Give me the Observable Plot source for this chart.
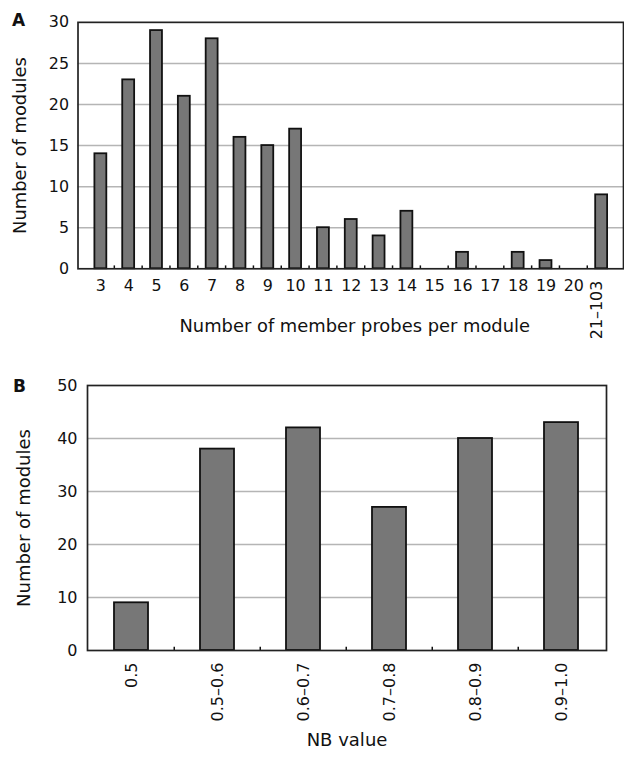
<!DOCTYPE html>
<html><head><meta charset="utf-8">
<script src="https://cdn.jsdelivr.net/npm/d3@7"></script>
<script src="https://cdn.jsdelivr.net/npm/@observablehq/plot@0.6"></script>
<style>
body{margin:0;background:#fff;}
#wrap{position:relative;width:624px;height:762px;overflow:hidden;font-family:"DejaVu Sans",sans-serif;color:#111;}
.panel{position:absolute;left:0;}
.tag{position:absolute;font-weight:bold;font-size:17px;line-height:17px;font-family:"DejaVu Sans",sans-serif;color:#111;}
</style></head><body>
<div id="wrap">
<div id="pa" class="panel" style="top:0"></div>
<div id="pb" class="panel" style="top:370px"></div>
<div class="tag" style="left:12px;top:12px">A</div>
<div class="tag" style="left:13px;top:378px">B</div>
</div>
<script>
// Panel A data
const probeCategories = ["3","4","5","6","7","8","9","10","11","12","13","14","15","16","17","18","19","20","21–103"];
const probeCounts = [14,23,29,21,28,16,15,17,5,6,4,7,0,2,0,2,1,0,9];
const probeTicks = [0,5,10,15,20,25,30];
// Panel B data
const nbCategories = ["0.5","0.5–0.6","0.6–0.7","0.7–0.8","0.8–0.9","0.9–1.0"];
const nbCounts = [9,38,42,27,40,43];
const nbTicks = [0,10,20,30,40,50];

const lastProbe = probeCategories[probeCategories.length - 1];
const dataA = probeCategories.map((c, i) => ({cat: c, count: probeCounts[i]}));
const dataB = nbCategories.map((c, i) => ({cat: c, count: nbCounts[i]}));

const font = "DejaVu Sans, sans-serif";
const ink = "#111";
const gridColor = "#b5b5b5";
const barFill = "#777777";

// Panel A
const wA = 628, mLA = 78, mRA = 1;
const stepA = (wA - mLA - mRA) / probeCategories.length;
const chartA = Plot.plot({
  width: wA, height: 350,
  marginLeft: mLA, marginRight: mRA, marginTop: 22, marginBottom: 80,
  style: {fontFamily: font, fontSize: "16px", color: ink, background: "transparent"},
  x: {domain: probeCategories, paddingInner: 0.58, paddingOuter: 0.29, label: null, tickSize: 0, tickPadding: 11,
      tickFormat: d => d === lastProbe ? "" : d},
  y: {domain: [0, 30], ticks: probeTicks, label: null, tickSize: 0, tickPadding: 9},
  marks: [
    Plot.ruleY(probeTicks.slice(1, -1), {stroke: gridColor, strokeWidth: 1.5}),
    Plot.barY(dataA.filter(d => d.count > 0), {x: "cat", y: "count", fill: barFill, stroke: "#111", strokeWidth: 1.8}),
    Plot.ruleX(probeCategories.slice(1), {x: d => d, y1: 0, y2: 0.35, dx: -stepA / 2, stroke: "#111", strokeWidth: 1.5}),
    Plot.frame({stroke: "#222", strokeWidth: 1.7}),
    Plot.text([lastProbe], {x: d => d, frameAnchor: "bottom", dy: 12, rotate: -90, textAnchor: "end", fontSize: 16, fill: ink}),
    Plot.text(["Number of member probes per module"], {frameAnchor: "bottom", textAnchor: "middle", dy: 64, dx: 4, fontSize: 18, fill: ink}),
    Plot.text(["Number of modules"], {frameAnchor: "left", textAnchor: "middle", dx: -58, rotate: -90, fontSize: 18, fill: ink})
  ]
});
document.getElementById("pa").appendChild(chartA);

// Panel B
const wB = 624, mLB = 87, mRB = 18;
const stepB = (wB - mLB - mRB) / nbCategories.length;
const chartB = Plot.plot({
  width: wB, height: 392,
  marginLeft: mLB, marginRight: mRB, marginTop: 15, marginBottom: 112,
  style: {fontFamily: font, fontSize: "16px", color: ink, background: "transparent"},
  x: {domain: nbCategories, paddingInner: 0.6, paddingOuter: 0.3, label: null, tickSize: 0, tickPadding: 12, tickRotate: -90},
  y: {domain: [0, 50], ticks: nbTicks, label: null, tickSize: 0, tickPadding: 10},
  marks: [
    Plot.ruleY(nbTicks.slice(1, -1), {stroke: gridColor, strokeWidth: 1.5}),
    Plot.barY(dataB, {x: "cat", y: "count", fill: barFill, stroke: "#111", strokeWidth: 1.8}),
    Plot.ruleX(nbCategories.slice(1), {x: d => d, y1: 0, y2: 0.6, dx: -stepB / 2, stroke: "#111", strokeWidth: 1.5}),
    Plot.frame({stroke: "#222", strokeWidth: 1.7}),
    Plot.text(["NB value"], {frameAnchor: "bottom", textAnchor: "middle", dy: 95, fontSize: 18, fill: ink}),
    Plot.text(["Number of modules"], {frameAnchor: "left", textAnchor: "middle", dx: -63, rotate: -90, fontSize: 18, fill: ink})
  ]
});
document.getElementById("pb").appendChild(chartB);
</script>
</body></html>
